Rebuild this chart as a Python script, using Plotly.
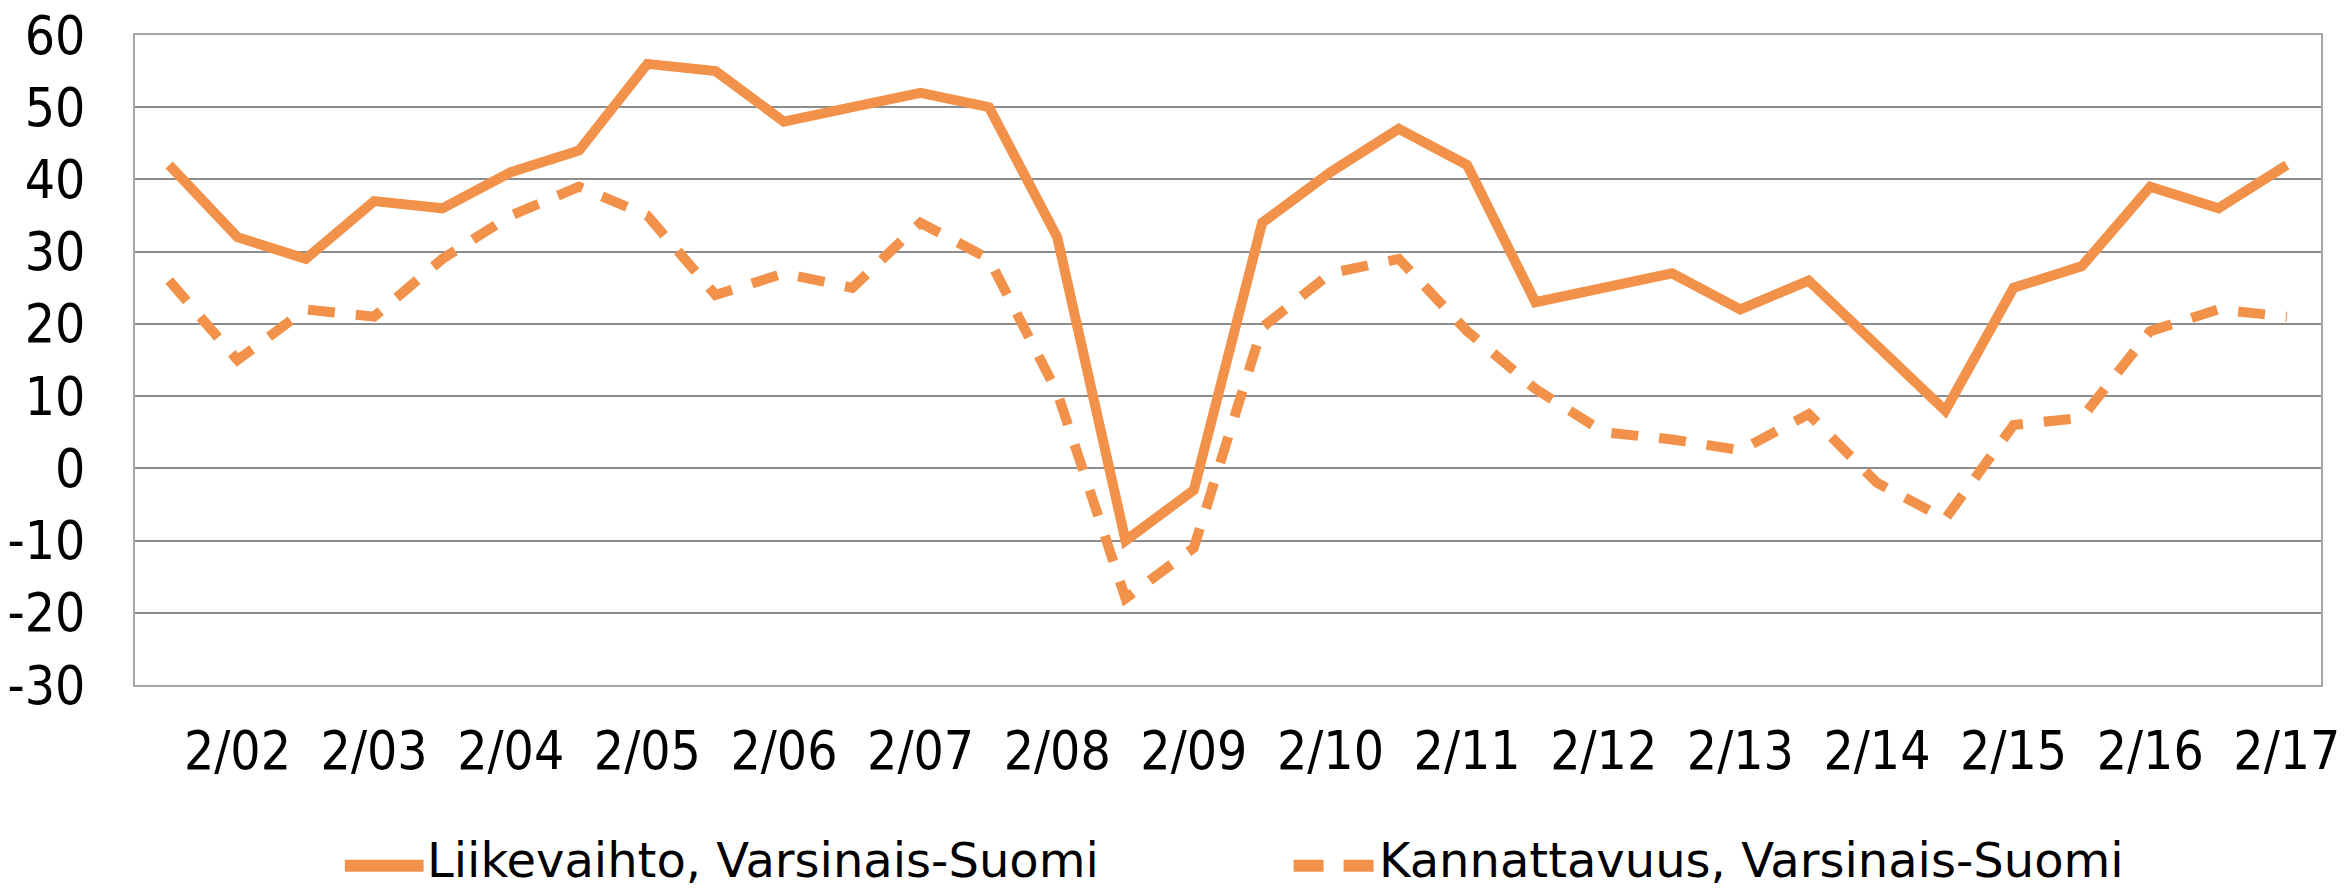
import plotly.graph_objects as go

# semiannual survey rounds, only the February ones get a tick label
periods = ['8/01', '2/02', '8/02', '2/03', '8/03', '2/04', '8/04', '2/05',
           '8/05', '2/06', '8/06', '2/07', '8/07', '2/08', '8/08', '2/09',
           '8/09', '2/10', '8/10', '2/11', '8/11', '2/12', '8/12', '2/13',
           '8/13', '2/14', '8/14', '2/15', '8/15', '2/16', '8/16', '2/17']
tick_labels = ['2/02', '2/03', '2/04', '2/05', '2/06', '2/07', '2/08', '2/09',
               '2/10', '2/11', '2/12', '2/13', '2/14', '2/15', '2/16', '2/17']
y_ticks = [-30, -20, -10, 0, 10, 20, 30, 40, 50, 60]
y_tick_text = ['-30', '-20', '-10', '0', '10', '20', '30', '40', '50', '60']

liikevaihto = [42, 32, 29, 37, 36, 41, 44, 56, 55, 48, 50, 52, 50, 32, -10, -3,
               34, 41, 47, 42, 23, 25, 27, 22, 26, 17, 8, 25, 28, 39, 36, 42]
kannattavuus = [26, 15, 22, 21, 29, 35, 39, 35, 24, 27, 25, 34, 29, 10.5, -18, -11,
                19.5, 27, 29, 19, 11, 5, 4, 2.5, 7.5, -2, -7, 6, 7, 19, 22, 21]

names = ['Liikevaihto, Varsinais-Suomi', 'Kannattavuus, Varsinais-Suomi']

ORANGE = '#F2924A'
tick_font = dict(family='DejaVu Sans Condensed, DejaVu Sans', size=53, color='black')

fig = go.Figure()
fig.add_trace(go.Scatter(x=periods, y=liikevaihto, mode='lines', name=names[0],
                         line=dict(color=ORANGE, width=10)))
fig.add_trace(go.Scatter(x=periods, y=kannattavuus, mode='lines', name=names[1],
                         line=dict(color=ORANGE, width=10, dash='27px,21px')))

# hand-made legend below the plot (plotly's own legend sample is too short)
fig.add_shape(type='line', xref='paper', yref='paper', x0=0.096, x1=0.132,
              y0=-0.278, y1=-0.278, line=dict(color=ORANGE, width=12))
fig.add_shape(type='line', xref='paper', yref='paper', x0=0.530, x1=0.568,
              y0=-0.278, y1=-0.278, line=dict(color=ORANGE, width=12, dash='30px,20px'))
for x0, txt in [(0.1325, names[0]), (0.568, names[1])]:
    fig.add_annotation(x=x0, y=-0.3154, xref='paper', yref='paper', text=txt,
                       showarrow=False, xanchor='left', yanchor='bottom',
                       font=dict(family='DejaVu Sans', size=48, color='black'))

fig.update_layout(
    width=2351, height=891,
    margin=dict(l=135, r=30, t=35, b=206),
    plot_bgcolor='white', paper_bgcolor='white',
    showlegend=False,
)
fig.update_xaxes(
    type='category', range=[-0.5, 31.5], automargin=False,
    tickmode='array', tickvals=tick_labels, ticktext=tick_labels,
    showgrid=False, showline=True, mirror=True, linecolor='#a6a6a6', linewidth=2,
    ticks='', tickfont=tick_font, ticklabelstandoff=18, ticklabeloverflow='allow',
)
fig.update_yaxes(
    range=[-30, 60], automargin=False,
    tickmode='array', tickvals=y_ticks, ticktext=y_tick_text,
    showgrid=True, gridcolor='#8c8c8c', gridwidth=2, zeroline=False,
    showline=True, mirror=True, linecolor='#a6a6a6', linewidth=2,
    ticks='', tickfont=tick_font, ticklabelstandoff=37, ticklabeloverflow='allow',
)

# drop the page's default body margin so the figure fills the window exactly
fig.write_html("out.html", config={'displayModeBar': False},
               post_script="document.body.style.margin = '0';")
